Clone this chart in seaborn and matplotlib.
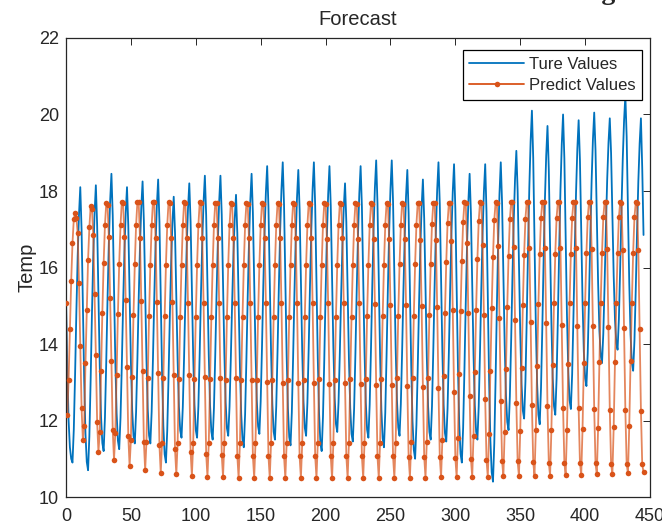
import numpy as np
import pandas as pd
import matplotlib
matplotlib.use("Agg")
import matplotlib.pyplot as plt
from matplotlib.lines import Line2D
import seaborn as sns

# Observed temperature, one value per time step (0..445)
true_temp = [
    15.2, 13.4, 12.0, 11.3, 11.0,
    10.9, 11.76, 13.2, 14.86, 16.3, 17.38, 18.1, 16.99, 14.99, 13.07, 11.66, 10.92,
    10.7, 11.59, 13.08, 14.8, 16.29, 17.41, 18.15, 17.11, 15.23, 13.42, 12.1, 11.41,
    11.2, 12.07, 13.52, 15.19, 16.64, 17.73, 18.45, 17.37, 15.43, 13.55, 12.19, 11.47,
    11.25, 12.07, 13.44, 15.02, 16.39, 17.42, 18.1, 17.1, 15.29, 13.54, 12.27, 11.6,
    11.4, 12.22, 13.59, 15.17, 16.54, 17.57, 18.25, 17.22, 15.37, 13.59, 12.29, 11.61,
    11.4, 12.23, 13.61, 15.2, 16.58, 17.61, 18.3, 17.19, 15.19, 13.27, 11.86, 11.12,
    10.9, 11.73, 13.12, 14.72, 16.11, 17.16, 17.85, 16.91, 15.2, 13.57, 12.37, 11.74,
    11.55, 12.35, 13.68, 15.21, 16.54, 17.54, 18.2, 17.2, 15.41, 13.68, 12.41, 11.75,
    11.55, 12.37, 13.74, 15.32, 16.69, 17.72, 18.4, 17.37, 15.5, 13.71, 12.4, 11.71,
    11.5, 12.33, 13.71, 15.3, 16.68, 17.71, 18.4, 17.38, 15.54, 13.78, 12.48, 11.8,
    11.6, 12.36, 13.62, 15.07, 16.33, 17.27, 17.9, 16.91, 15.13, 13.41, 12.16, 11.5,
    11.3, 12.16, 13.59, 15.23, 16.66, 17.74, 18.45, 17.43, 15.59, 13.83, 12.53, 11.85,
    11.65, 12.49, 13.89, 15.5, 16.9, 17.95, 18.65, 17.58, 15.65, 13.79, 12.43, 11.71,
    11.5, 12.37, 13.82, 15.49, 16.94, 18.03, 18.75, 17.64, 15.64, 13.72, 12.31, 11.57,
    11.35, 12.21, 13.65, 15.31, 16.75, 17.83, 18.55, 17.51, 15.63, 13.82, 12.5, 11.81,
    11.6, 12.46, 13.89, 15.53, 16.96, 18.04, 18.75, 17.62, 15.58, 13.62, 12.18, 11.43,
    11.2, 12.09, 13.58, 15.3, 16.79, 17.91, 18.65, 17.61, 15.73, 13.92, 12.6, 11.91,
    11.7, 12.48, 13.78, 15.28, 16.58, 17.55, 18.2, 17.19, 15.37, 13.61, 12.33, 11.65,
    11.45, 12.31, 13.75, 15.41, 16.85, 17.93, 18.65, 17.59, 15.67, 13.82, 12.47, 11.76,
    11.55, 12.42, 13.87, 15.54, 16.99, 18.08, 18.8, 17.68, 15.65, 13.7, 12.28, 11.53,
    11.3, 12.2, 13.7, 15.43, 16.93, 18.05, 18.8, 17.72, 15.78, 13.9, 12.54, 11.82,
    11.6, 12.43, 13.82, 15.42, 16.81, 17.86, 18.55, 17.42, 15.38, 13.42, 11.98, 11.23,
    11.0, 11.88, 13.34, 15.02, 16.48, 17.57, 18.3, 17.28, 15.44, 13.68, 12.38, 11.7,
    11.5, 12.37, 13.82, 15.49, 16.94, 18.03, 18.75, 17.66, 15.68, 13.79, 12.4, 11.67,
    11.45, 12.32, 13.77, 15.44, 16.89, 17.98, 18.7, 17.53, 15.42, 13.4, 11.91, 11.13,
    10.9, 11.81, 13.32, 15.05, 16.56, 17.7, 18.45, 17.41, 15.53, 13.72, 12.4, 11.71,
    11.5, 12.36, 13.8, 15.46, 16.9, 17.98, 18.7, 17.46, 15.21, 13.06, 11.48, 10.65,
    10.4, 11.4, 13.07, 14.99, 16.66, 17.92, 18.75, 17.7, 15.81, 13.99, 12.66, 11.96,
    11.75, 12.63, 14.09, 15.77, 17.23, 18.32, 19.05, 18.0, 16.11, 14.29, 12.96, 12.26,
    12.05, 13.02, 14.63, 16.48, 18.09, 19.3, 20.1, 18.87, 16.66, 14.52, 12.97, 12.15,
    11.9, 12.84, 14.4, 16.19, 17.75, 18.92, 19.7, 18.57, 16.53, 14.57, 13.13, 12.38,
    12.15, 13.09, 14.66, 16.47, 18.04, 19.22, 20.0, 18.85, 16.77, 14.76, 13.3, 12.53,
    12.3, 13.21, 14.72, 16.45, 17.96, 19.1, 19.85, 18.81, 16.93, 15.12, 13.8, 13.11,
    12.9, 13.76, 15.19, 16.83, 18.26, 19.34, 20.05, 19.07, 17.3, 15.6, 14.35, 13.7,
    13.5, 14.27, 15.55, 17.02, 18.3, 19.26, 19.9, 18.99, 17.36, 15.79, 14.64, 14.03,
    13.85, 14.65, 15.98, 17.51, 18.84, 19.84, 20.5, 19.42, 17.48, 15.6, 14.24, 13.52,
    13.3, 14.09, 15.41, 16.93, 18.25, 19.24, 19.9, 18.6, 16.85,
]

# Model forecast for the same time steps
pred_temp = [
    15.07,
    12.14, 13.05, 14.38, 15.65, 16.64, 17.26, 17.42, 17.3, 16.9, 15.6, 13.95, 12.32,
    11.49, 11.85, 13.5, 14.9, 16.2, 17.05, 17.6, 17.52, 16.85, 15.3, 13.72, 11.95,
    11.18, 11.7, 13.3, 14.82, 16.12, 17.1, 17.68, 17.64, 16.8, 15.2, 13.55, 11.75,
    10.97, 11.68, 13.2, 14.78, 16.1, 17.1, 17.72, 17.68, 16.8, 15.15, 13.4, 11.6,
    10.81, 11.5, 13.15, 14.75, 16.08, 17.1, 17.72, 17.7, 16.78, 15.12, 13.3, 11.45,
    10.7, 11.45, 13.12, 14.74, 16.07, 17.1, 17.72, 17.7, 16.78, 15.1, 13.25, 11.35,
    10.63, 11.42, 13.1, 14.72, 16.06, 17.1, 17.71, 17.69, 16.77, 15.09, 13.2, 11.25,
    10.59, 11.41, 13.09, 14.71, 16.06, 17.1, 17.7, 17.68, 16.76, 15.08, 13.18, 11.18,
    10.55, 11.4, 13.08, 14.7, 16.06, 17.1, 17.7, 17.68, 16.76, 15.07, 13.15, 11.13,
    10.53, 11.4, 13.08, 14.7, 16.06, 17.1, 17.69, 17.68, 16.76, 15.07, 13.12, 11.1,
    10.53, 11.4, 13.07, 14.7, 16.06, 17.1, 17.69, 17.67, 16.76, 15.07, 13.1, 11.08,
    10.5, 11.4, 13.07, 14.7, 16.06, 17.1, 17.68, 17.67, 16.76, 15.07, 13.05, 11.07,
    10.5, 11.4, 13.07, 14.7, 16.06, 17.1, 17.68, 17.67, 16.76, 15.07, 13.0, 11.07,
    10.5, 11.41, 13.07, 14.71, 16.06, 17.1, 17.68, 17.67, 16.76, 15.07, 12.98, 11.07,
    10.49, 11.4, 13.07, 14.7, 16.06, 17.1, 17.68, 17.67, 16.76, 15.07, 12.97, 11.06,
    10.5, 11.4, 13.07, 14.7, 16.06, 17.1, 17.68, 17.67, 16.76, 15.07, 12.97, 11.07,
    10.5, 11.41, 13.08, 14.71, 16.06, 17.1, 17.68, 17.67, 16.75, 15.06, 12.96, 11.06,
    10.49, 11.4, 13.07, 14.7, 16.06, 17.1, 17.68, 17.67, 16.76, 15.07, 12.97, 11.07,
    10.5, 11.41, 13.08, 14.71, 16.07, 17.1, 17.68, 17.67, 16.75, 15.06, 12.96, 11.06,
    10.5, 11.41, 13.08, 14.72, 16.07, 17.11, 17.68, 17.67, 16.75, 15.05, 12.94, 11.06,
    10.5, 11.42, 13.09, 14.72, 16.07, 17.11, 17.68, 17.67, 16.74, 15.03, 12.92, 11.06,
    10.5, 11.42, 13.1, 14.73, 16.08, 17.12, 17.68, 17.67, 16.74, 15.02, 12.9, 11.05,
    10.51, 11.43, 13.11, 14.74, 16.09, 17.12, 17.69, 17.68, 16.73, 15.0, 12.88, 11.05,
    10.51, 11.45, 13.12, 14.76, 16.1, 17.13, 17.69, 17.68, 16.72, 14.98, 12.85, 11.05,
    10.52, 11.5, 13.17, 14.8, 16.14, 17.16, 17.69, 17.68, 16.68, 14.9, 12.75, 11.02,
    10.52, 11.55, 13.22, 14.85, 16.18, 17.19, 17.7, 17.69, 16.64, 14.82, 12.65, 11.0,
    10.53, 11.6, 13.26, 14.9, 16.22, 17.22, 17.7, 17.69, 16.6, 14.75, 12.57, 10.97,
    10.53, 11.65, 13.3, 14.94, 16.27, 17.24, 17.7, 17.69, 16.57, 14.68, 12.5, 10.95,
    10.54, 11.7, 13.34, 14.98, 16.3, 17.26, 17.71, 17.7, 16.54, 14.62, 12.45, 10.93,
    10.55, 11.72, 13.38, 15.02, 16.33, 17.28, 17.71, 17.7, 16.52, 14.57, 12.4, 10.91,
    10.56, 11.74, 13.42, 15.04, 16.35, 17.29, 17.71, 17.7, 16.51, 14.54, 12.37, 10.9,
    10.56, 11.75, 13.45, 15.06, 16.36, 17.3, 17.71, 17.7, 16.5, 14.5, 12.33, 10.9,
    10.57, 11.76, 13.47, 15.06, 16.36, 17.3, 17.71, 17.7, 16.5, 14.48, 12.32, 10.89,
    10.58, 11.78, 13.5, 15.07, 16.37, 17.31, 17.71, 17.7, 16.49, 14.46, 12.3, 10.88,
    10.59, 11.8, 13.52, 15.07, 16.37, 17.31, 17.71, 17.7, 16.48, 14.44, 12.28, 10.87,
    10.6, 11.82, 13.53, 15.07, 16.37, 17.31, 17.7, 17.69, 16.47, 14.42, 12.27, 10.86,
    10.62, 11.85, 13.55, 15.08, 16.38, 17.31, 17.7, 17.69, 16.46, 14.4, 12.25, 10.85,
    10.65,
]

series_names = ["Ture Values", "Predict Values"]
x_ticks = [0, 50, 100, 150, 200, 250, 300, 350, 400, 450]
y_ticks = [10, 12, 14, 16, 18, 20, 22]

BLUE = "#0072BD"
ORANGE = "#D95319"
INK = "#262626"

sns.set_style("white")
plt.rcParams["font.family"] = ["Liberation Sans", "DejaVu Sans"]

df = pd.DataFrame({
    "step": np.arange(len(true_temp)),
    "true": true_temp,
    "pred": pred_temp,
})

fig = plt.figure(figsize=(6.62, 5.27), dpi=100)
ax = fig.add_axes([0.0997, 0.0569, 0.8822, 0.871])

sns.lineplot(data=df, x="step", y="true", ax=ax, color=BLUE, lw=1.3,
             legend=False)
sns.lineplot(data=df, x="step", y="pred", ax=ax, color=ORANGE, lw=1.3,
             alpha=0.7, legend=False)
sns.scatterplot(data=df, x="step", y="pred", ax=ax, color=ORANGE, s=16,
                linewidth=0, legend=False, zorder=3)

ax.set_xlim(x_ticks[0], x_ticks[-1])
ax.set_ylim(y_ticks[0], y_ticks[-1])
ax.set_xticks(x_ticks)
ax.set_yticks(y_ticks)
ax.set_xlabel("")
ax.set_ylabel("Temp", fontsize=14.5, color=INK, labelpad=2)
ax.set_title("Forecast", fontsize=14.5, color=INK, pad=9)

ax.tick_params(direction="in", length=5, width=0.7, top=True, right=True,
               colors=INK, labelsize=13)
ax.tick_params(axis="x", pad=8)
ax.tick_params(axis="y", pad=5)
for sp in ax.spines.values():
    sp.set_visible(True)
    sp.set_color(INK)
    sp.set_linewidth(0.9)

handles = [
    Line2D([], [], color=BLUE, lw=1.3),
    Line2D([], [], color=ORANGE, lw=1.3, marker="o", markersize=4,
           markeredgewidth=0),
]
leg = ax.legend(handles, series_names, loc="upper right",
                bbox_to_anchor=(0.986, 0.974), fontsize=12, frameon=True,
                fancybox=False, framealpha=1, edgecolor="black",
                handlelength=3.3, handletextpad=0.25, borderpad=0.4,
                labelspacing=0.4, borderaxespad=0, numpoints=1)
leg.get_frame().set_linewidth(0.9)

# Heading above the figure area, only its lower edge falls on the canvas
fig.text(0.93, 1.002, "Forecasting", ha="right", va="baseline",
         fontsize=20, fontweight="bold", family="Liberation Serif")

fig.savefig("out.png", dpi=100)
